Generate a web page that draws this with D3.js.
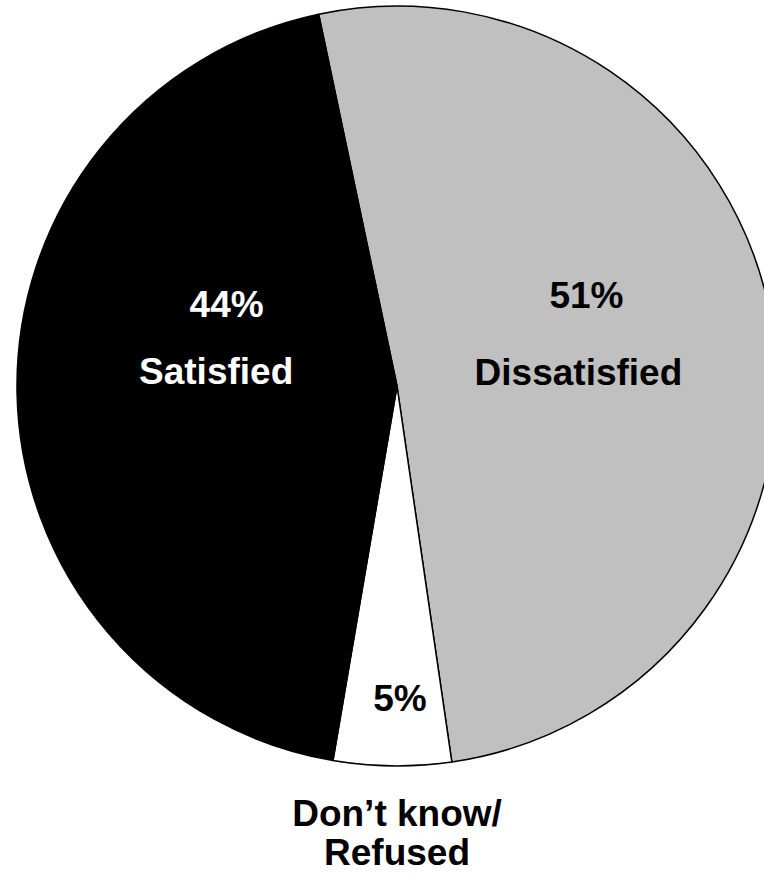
<!DOCTYPE html>
<html>
<head>
<meta charset="utf-8">
<script src="https://cdn.jsdelivr.net/npm/d3@7/dist/d3.min.js"></script>
<style>
  html, body { margin: 0; padding: 0; background: #fff; }
  svg { display: block; }
  text { font-family: "Liberation Sans", Arial, Helvetica, sans-serif; font-weight: bold; }
</style>
</head>
<body>
<svg id="chart" width="764" height="876"></svg>
<script>
// Survey responses (percent), drawn clockwise starting with "Dissatisfied"
const categories = ["Dissatisfied", "Don\u2019t know/Refused", "Satisfied"];
const values = [51, 5, 44];
const valueLabels = ["51%", "5%", "44%"];
const nameLines = [["Dissatisfied"], ["Don\u2019t know/", "Refused"], ["Satisfied"]];

const width = 764, height = 876;
const cx = 397, cy = 386, radius = 380;
const startAngle = -11.9 * Math.PI / 180;

const colour = d3.scaleOrdinal()
  .domain(categories)
  .range(["#c0c0c0", "#ffffff", "#000000"]);

const textColour = d3.scaleOrdinal()
  .domain(categories)
  .range(["#000000", "#000000", "#ffffff"]);

// Label placement relative to each slice's mid-angle point (layout only)
const labelLayout = {
  "Dissatisfied":             { r: 0.485, dx: 0,   pct: -46,   name: 31,   pctDx: 8 },
  "Don\u2019t know/Refused":  { r: 0.86,  dx: 4,   pct: -2,    name: 0,    pctDx: 7, outside: true },
  "Satisfied":                { r: 0.48,  dx: 1.5, pct: -72.5, name: -5.5, pctDx: 12 }
};

const svg = d3.select("#chart");
const g = svg.append("g").attr("transform", `translate(${cx},${cy})`);

const pie = d3.pie()
  .sort(null)
  .value(d => d.value)
  .startAngle(startAngle)
  .endAngle(startAngle + 2 * Math.PI);

const data = categories.map((c, i) => ({ category: c, value: values[i], label: valueLabels[i], lines: nameLines[i] }));
const arcs = pie(data);

const arc = d3.arc().innerRadius(0).outerRadius(radius);

g.selectAll("path.slice")
  .data(arcs)
  .join("path")
  .attr("class", "slice")
  .attr("d", arc)
  .attr("fill", d => colour(d.data.category))
  .attr("stroke", "#000")
  .attr("stroke-width", 1.5)
  .attr("stroke-linejoin", "round");

const fontSize = 37;

arcs.forEach(a => {
  const cat = a.data.category;
  const lay = labelLayout[cat];
  const mid = (a.startAngle + a.endAngle) / 2;
  const lr = radius * lay.r;
  const x = Math.sin(mid) * lr;
  const y = -Math.cos(mid) * lr;
  const fill = textColour(cat);

  g.append("text")
    .attr("x", x + lay.pctDx)
    .attr("y", y + lay.pct)
    .attr("text-anchor", "middle")
    .attr("font-size", fontSize)
    .attr("fill", fill)
    .text(a.data.label);

  if (lay.outside) {
    // category name sits below the pie for the thin slice
    a.data.lines.forEach((line, i) => {
      g.append("text")
        .attr("x", x + lay.dx)
        .attr("y", radius + 60 + i * 39)
        .attr("text-anchor", "middle")
        .attr("font-size", fontSize)
        .attr("fill", "#000")
        .text(line);
    });
  } else {
    a.data.lines.forEach((line, i) => {
      g.append("text")
        .attr("x", x + lay.dx)
        .attr("y", y + lay.name + i * 39)
        .attr("text-anchor", "middle")
        .attr("font-size", fontSize)
        .attr("fill", fill)
        .text(line);
    });
  }
});
</script>
</body>
</html>
